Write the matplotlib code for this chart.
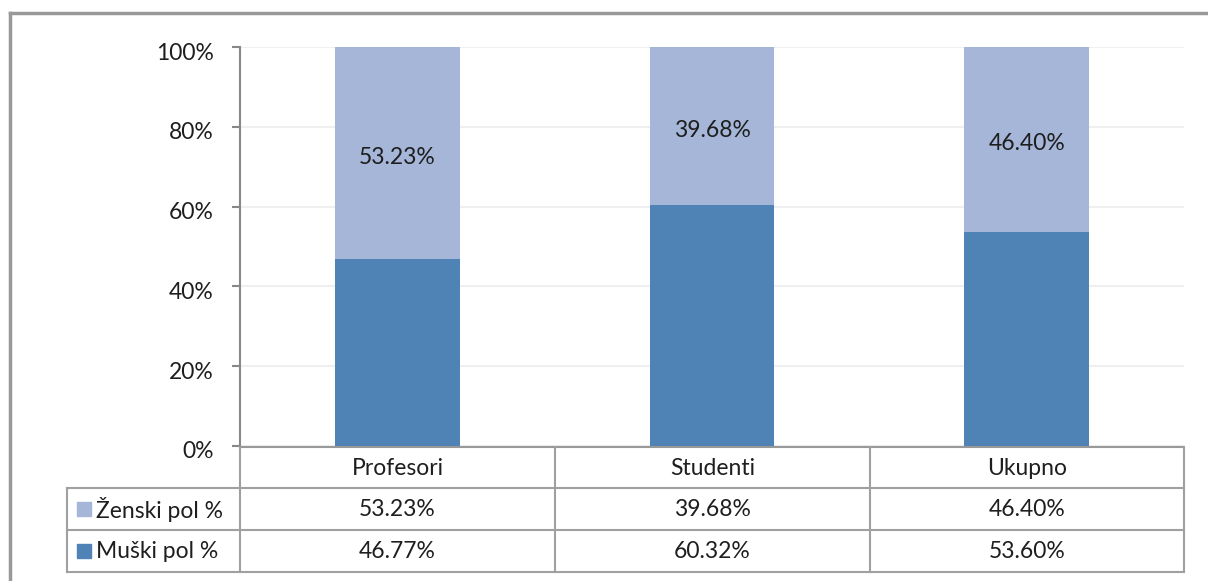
import matplotlib.pyplot as plt
import matplotlib.lines as mlines
import matplotlib.patches as mpatches
import numpy as np

plt.rcParams['font.family'] = ['Lato', 'DejaVu Sans']

# podaci
kategorije = ['Profesori', 'Studenti', 'Ukupno']
muski = [46.77, 60.32, 53.60]
zenski = [53.23, 39.68, 46.40]
serije = ['Ženski pol %', 'Muški pol %']
boja_z = '#A5B6D8'
boja_m = '#4F82B5'

W, H = 1208, 581
fig = plt.figure(figsize=(W / 100, H / 100), dpi=100)
fs = 16.5
tc = '#1E1E1E'

def fx(x):
    return x / W

def fy(y):
    return 1 - y / H

# okvir grafikona
ax_l, ax_r, ax_t, ax_b = 240, 1184, 47, 446
ax = fig.add_axes([fx(ax_l), fy(ax_b), fx(ax_r) - fx(ax_l), fy(ax_t) - fy(ax_b)])

x = np.arange(len(kategorije))
ax.bar(x, muski, width=0.397, color=boja_m, zorder=2)
ax.bar(x, zenski, width=0.397, bottom=muski, color=boja_z, zorder=2)
for i in range(len(kategorije)):
    ax.annotate('%.2f%%' % zenski[i], (x[i], muski[i] + zenski[i] / 2),
                xytext=(0, -3), textcoords='offset points',
                ha='center', va='center', fontsize=fs, color=tc, zorder=3)

ax.set_xlim(-0.5, len(kategorije) - 0.5)
ax.set_ylim(0, 100)
ax.set_yticks(range(0, 101, 20))
ax.set_yticklabels(['%d%%' % v for v in range(0, 101, 20)], fontsize=fs, color=tc)
for lbl in ax.get_yticklabels():
    lbl.set_y(lbl.get_position()[1])
ax.set_xticks([])
ax.grid(axis='y', color='#EFEFEF', lw=1.5, zorder=0)
for s in ['top', 'right', 'bottom']:
    ax.spines[s].set_visible(False)
ax.spines['left'].set_color('#888888')
ax.spines['left'].set_linewidth(1.5)
ax.tick_params(axis='y', length=6, width=1.5, color='#888888', pad=13)

# pomjeri oznake malo nadolje kao u Excelu
import matplotlib.transforms as mtrans
pom = mtrans.ScaledTranslation(0, -4 / 100, fig.dpi_scale_trans)
for lbl in ax.get_yticklabels():
    lbl.set_transform(lbl.get_transform() + pom)

# tabela podataka ispod
siva = '#A0A0A0'
kol = [240, 555, 870, 1184]
red = [447, 488, 530, 572]
lab_l = 67

def linija(x1, y1, x2, y2, c=siva, lw=1.5):
    fig.add_artist(mlines.Line2D([fx(x1), fx(x2)], [fy(y1), fy(y2)], color=c, lw=lw))

linija(kol[0], red[0], kol[-1], red[0], c='#999999')
for yy in red[1:]:
    linija(lab_l, yy, kol[-1], yy)
for xx in kol:
    linija(xx, red[0], xx, red[-1])
linija(lab_l, red[1], lab_l, red[-1])

for i, k in enumerate(kategorije):
    cx = (kol[i] + kol[i + 1]) / 2
    fig.text(fx(cx), fy((red[0] + red[1]) / 2 + 1), k, ha='center', va='center',
             fontsize=fs, color=tc)
    fig.text(fx(cx), fy((red[1] + red[2]) / 2 + 1), '%.2f%%' % zenski[i], ha='center',
             va='center', fontsize=fs, color=tc)
    fig.text(fx(cx), fy((red[2] + red[3]) / 2 + 1), '%.2f%%' % muski[i], ha='center',
             va='center', fontsize=fs, color=tc)

for j, (naziv, boja) in enumerate(zip(serije, [boja_z, boja_m])):
    cy = (red[j + 1] + red[j + 2]) / 2
    fig.add_artist(mpatches.Rectangle((fx(77), fy(cy + 7)), fx(14), fy(0) - fy(14),
                                      color=boja))
    fig.text(fx(96), fy(cy + 1), naziv, ha='left', va='center', fontsize=fs, color=tc)

# spoljni okvir
linija(10, 13, W + 5, 13, c='#999999', lw=2.5)
linija(10, 13, 10, H + 5, c='#999999', lw=2.5)

fig.savefig('out.png', dpi=100)
